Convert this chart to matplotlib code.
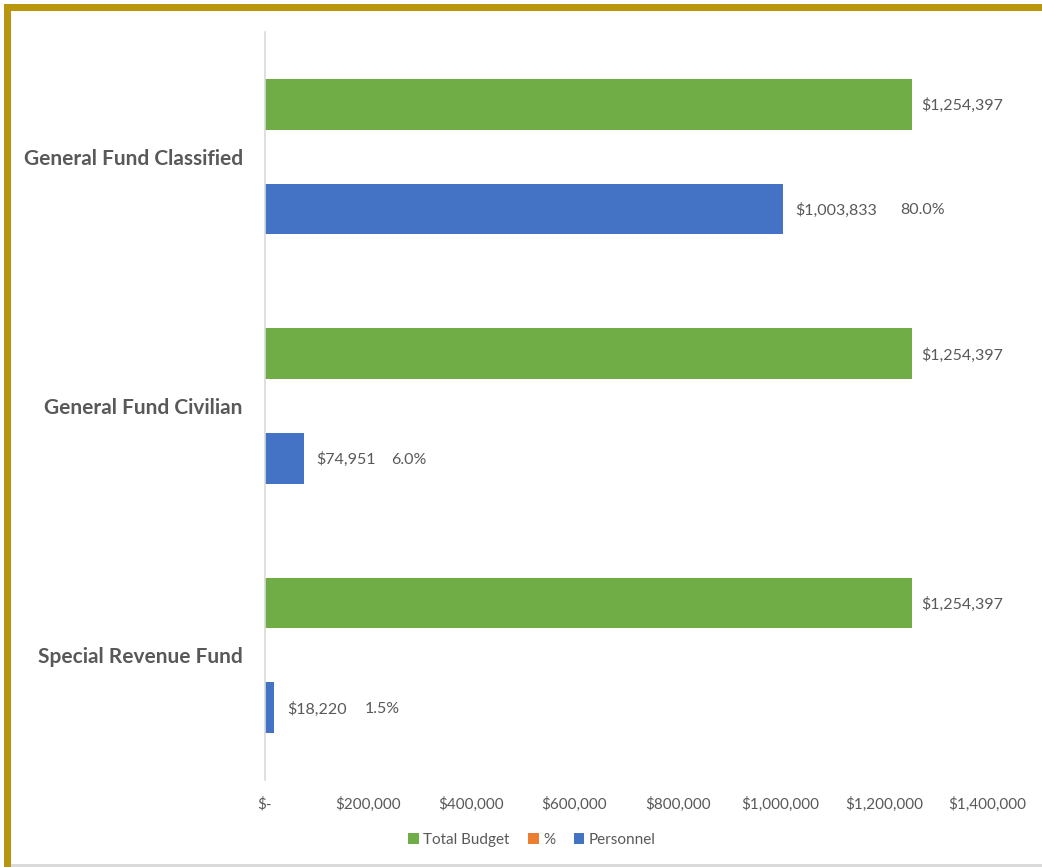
import matplotlib
matplotlib.use("Agg")
import matplotlib.pyplot as plt
from matplotlib.patches import Rectangle
from matplotlib.ticker import FuncFormatter
import numpy as np

categories = ["General Fund Classified", "General Fund Civilian", "Special Revenue Fund"]
total_budget = [1254397, 1254397, 1254397]
pct = [0.800, 0.060, 0.015]
personnel = [1003833, 74951, 18220]
pct_labels = ["80.0%", "6.0%", "1.5%"]
pct_gaps = [17, 11, 13]  # points between value label and % label
x_ticks = [0, 200000, 400000, 600000, 800000, 1000000, 1200000, 1400000]

GREEN = "#70AD47"
ORANGE = "#ED7D31"
BLUE = "#4472C4"
TXT = "#595959"
GOLD = "#B8970F"

plt.rcParams['font.family'] = ['Lato', 'DejaVu Sans']

W, H = 1042, 867
fig = plt.figure(figsize=(W / 100, H / 100), dpi=100)
fig.patch.set_facecolor("white")

def fx(px):
    return px / W

def fy(py):
    return 1 - py / H

ax = fig.add_axes([fx(265), fy(780), fx(987) - fx(265), fy(32) - fy(780)])

y = np.arange(len(categories))
h = 0.204
off = 0.21
ax.barh(y - off, total_budget, height=h, color=GREEN, label="Total Budget")
ax.barh(y, pct, height=h, color=ORANGE, label="%")
ax.barh(y + off, personnel, height=h, color=BLUE, label="Personnel")

ax.set_xlim(0, 1400000)
ax.set_ylim(2.5, -0.5)
ax.set_yticks(y)
ax.set_yticklabels(categories, fontsize=15, fontweight="bold", color=TXT)
ax.set_xticks(x_ticks)
ax.xaxis.set_major_formatter(FuncFormatter(lambda v, p: "$-" if v == 0 else f"${v:,.0f}"))
for lab in ax.get_xticklabels():
    lab.set_fontsize(11)
    lab.set_color(TXT)
ax.tick_params(axis="x", length=0, pad=12)
ax.tick_params(axis="y", length=0, pad=16)

for s in ["top", "right", "bottom"]:
    ax.spines[s].set_visible(False)
ax.spines["left"].set_color("#D9D9D9")
ax.spines["left"].set_linewidth(1.2)

for i in range(len(categories)):
    ax.annotate(f"${total_budget[i]:,.0f}", xy=(total_budget[i], y[i] - off),
                xytext=(7, -1), textcoords="offset points", va="center", ha="left",
                fontsize=11.5, color=TXT)
    t = ax.annotate(f"${personnel[i]:,.0f}", xy=(personnel[i], y[i] + off),
                    xytext=(9, -1), textcoords="offset points", va="center", ha="left",
                    fontsize=11.5, color=TXT)
    ax.annotate(pct_labels[i], xy=(1, 0.5), xycoords=t,
                xytext=(pct_gaps[i], 0), textcoords="offset points", va="center", ha="left",
                fontsize=11.5, color=TXT)

handles, labels = ax.get_legend_handles_labels()
leg = fig.legend(handles, labels, loc="center", bbox_to_anchor=(fx(532), fy(840)),
                 ncol=3, frameon=False, fontsize=11, handlelength=0.7, handleheight=0.7,
                 handletextpad=0.3, columnspacing=1.2, labelcolor=TXT)

# border
fig.patches.append(Rectangle((fx(4), fy(867)), fx(7), fy(4) - fy(867), transform=fig.transFigure,
                             facecolor=GOLD, edgecolor="none", zorder=10))
fig.patches.append(Rectangle((fx(4), fy(11)), fx(1042) - fx(4), fy(4) - fy(11), transform=fig.transFigure,
                             facecolor=GOLD, edgecolor="none", zorder=10))
fig.patches.append(Rectangle((fx(11), fy(867)), fx(1042) - fx(11), fy(864) - fy(867), transform=fig.transFigure,
                             facecolor="#DADADA", edgecolor="none", zorder=10))

fig.savefig("out.png", dpi=100)
